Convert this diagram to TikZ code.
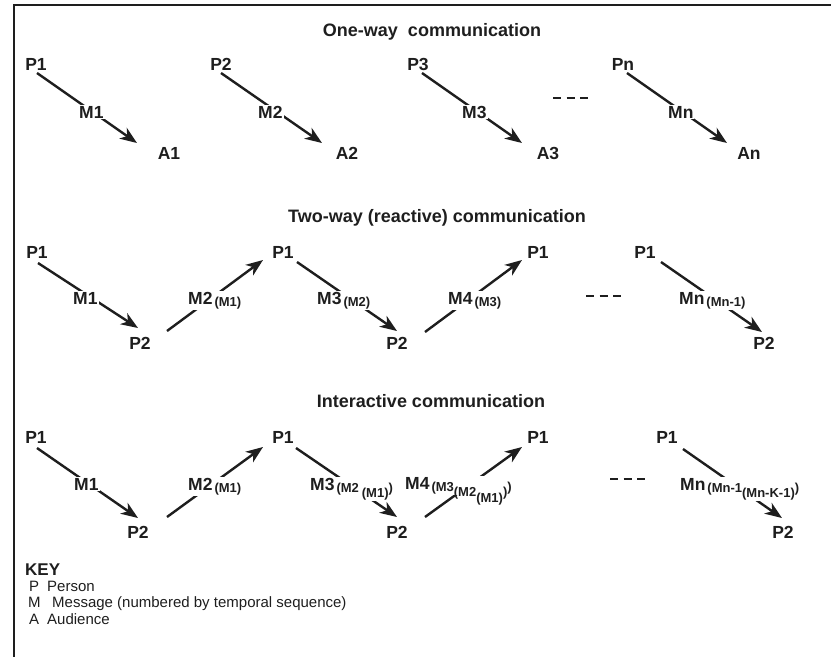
\documentclass[tikz,border=0pt]{standalone}
\usepackage{fontspec}
\setmainfont{Liberation Sans}
\usetikzlibrary{arrows.meta}
\definecolor{ink}{HTML}{1E1E1E}
\newcommand\lblfont{\bfseries\fontsize{17.5}{20}\selectfont}
\newcommand\subfont{\bfseries\fontsize{13}{15}\selectfont}
\newcommand\ttlfont{\bfseries\fontsize{18}{21}\selectfont}
\newcommand\keyfont{\fontsize{15}{18}\selectfont}
\newcommand\keybold{\bfseries\fontsize{17}{20}\selectfont}
% first-level and nested subscripts of a message label
\newcommand\subA[1]{\raisebox{-2pt}{\subfont #1}}
\newcommand\subB[1]{\raisebox{-5.5pt}{#1}}
\begin{document}
\begin{tikzpicture}[x=1pt,y=-1pt,
  party/.style={inner sep=0pt,font=\lblfont,text=ink},
  msg/.style={inner sep=1pt,fill=white,font=\lblfont,text=ink,anchor=base west},
  ttl/.style={inner sep=0pt,font=\ttlfont,text=ink,anchor=base},
  keyhead/.style={inner sep=0pt,font=\keybold,text=ink,anchor=base west},
  keytxt/.style={inner sep=0pt,font=\keyfont,text=ink,anchor=base west},
  arr/.style={draw=ink,line width=2.4pt,-{Stealth[length=17pt,width=13pt,inset=5pt]}},
  ellip/.style={draw=ink,line width=2.8pt,dash pattern=on 8pt off 5.5pt},
  frame/.style={draw=ink,line width=2pt}]
\useasboundingbox (0,0) rectangle (831,657);
\draw[frame] (831,4.5) -- (13.5,4.5) -- (13.5,657);

% ---------- one-way ----------
\node[ttl] (t1) at (432,36.5) {One-way~~communication};
\node[party] (a-p1) at (36,64) {P1};
\node[party] (a-p2) at (221,64) {P2};
\node[party] (a-p3) at (418,64) {P3};
\node[party] (a-pn) at (623,64) {Pn};
\node[party] (a-a1) at (169,153) {A1};
\node[party] (a-a2) at (347,153) {A2};
\node[party] (a-a3) at (548,153) {A3};
\node[party] (a-an) at (749,153) {An};
\draw[arr] ([shift={(1,9)}]a-p1.center) -- ([shift={(-32,-10)}]a-a1.center);
\draw[arr] ([shift={(0,9)}]a-p2.center) -- ([shift={(-25,-10)}]a-a2.center);
\draw[arr] ([shift={(4,9)}]a-p3.center) -- ([shift={(-26,-10)}]a-a3.center);
\draw[arr] ([shift={(4,9)}]a-pn.center) -- ([shift={(-22,-10)}]a-an.center);
\node[msg] (a-m1) at (78,118) {M1};
\node[msg] (a-m2) at (257,118) {M2};
\node[msg] (a-m3) at (461,118) {M3};
\node[msg] (a-mn) at (667,118) {Mn};
\draw[ellip] (553,98) -- (588,98);

% ---------- two-way (reactive) ----------
\node[ttl] (t2) at (437,222) {Two-way (reactive) communication};
\node[party] (b-p1a) at (37,252) {P1};
\node[party] (b-p2a) at (140,343) {P2};
\node[party] (b-p1b) at (283,252) {P1};
\node[party] (b-p2b) at (397,343) {P2};
\node[party] (b-p1c) at (538,252) {P1};
\node[party] (b-p1d) at (645,252) {P1};
\node[party] (b-p2d) at (764,343) {P2};
\draw[arr] ([shift={(1,11)}]b-p1a.center) -- ([shift={(-2,-15)}]b-p2a.center);
\draw[arr] ([shift={(27,-12)}]b-p2a.center) -- ([shift={(-20,8)}]b-p1b.center);
\draw[arr] ([shift={(14,10)}]b-p1b.center) -- ([shift={(0,-12)}]b-p2b.center);
\draw[arr] ([shift={(28,-11)}]b-p2b.center) -- ([shift={(-16,8)}]b-p1c.center);
\draw[arr] ([shift={(16,10)}]b-p1d.center) -- ([shift={(-2,-11)}]b-p2d.center);
\node[msg] (b-m1) at (72,304) {M1};
\node[msg] (b-m2) at (187,304) {M2\kern2pt\subA{(M1)}};
\node[msg] (b-m3) at (316,304) {M3\kern2pt\subA{(M2)}};
\node[msg] (b-m4) at (447,304) {M4\kern2pt\subA{(M3)}};
\node[msg] (b-mn) at (678,304) {Mn\kern2pt\subA{(Mn-1)}};
\draw[ellip] (586,296) -- (621,296);

% ---------- interactive ----------
\node[ttl] (t3) at (431,407) {Interactive communication};
\node[party] (c-p1a) at (36,437) {P1};
\node[party] (c-p2a) at (138,532) {P2};
\node[party] (c-p1b) at (283,437) {P1};
\node[party] (c-p2b) at (397,532) {P2};
\node[party] (c-p1c) at (538,437) {P1};
\node[party] (c-p1d) at (667,437) {P1};
\node[party] (c-p2d) at (783,532) {P2};
\draw[arr] ([shift={(1,11)}]c-p1a.center) -- ([shift={(0,-14)}]c-p2a.center);
\draw[arr] ([shift={(29,-15)}]c-p2a.center) -- ([shift={(-20,10)}]c-p1b.center);
\draw[arr] ([shift={(13,11)}]c-p1b.center) -- ([shift={(0,-15)}]c-p2b.center);
\draw[arr] ([shift={(28,-15)}]c-p2b.center) -- ([shift={(-16,10)}]c-p1c.center);
\draw[arr] ([shift={(16,12)}]c-p1d.center) -- ([shift={(-1,-14)}]c-p2d.center);
\node[msg] (c-m1) at (73,490) {M1};
\node[msg] (c-m2) at (187,490) {M2\kern2pt\subA{(M1)}};
\node[msg] (c-m3) at (309,490) {M3\kern2pt\subA{(M2\kern3pt\subB{(M1)})}};
\node[msg] (c-m4) at (404,489) {M4\kern2pt\subA{(M3\smash{\subB{(M2\subB{(M1)})}})}};
\node[msg] (c-mn) at (679,490) {Mn\kern2pt\subA{(Mn-1\subB{(Mn-K-1)})}};
\draw[ellip] (610,479) -- (645,479);

% ---------- key ----------
\node[keyhead] (k-head) at (25,575) {KEY};
\node[keytxt] (k-p) at (29,591) {P};
\node[keytxt] (k-pt) at (47,591) {Person};
\node[keytxt] (k-m) at (28,607.5) {M};
\node[keytxt] (k-mt) at (52,607.5) {Message (numbered by temporal sequence)};
\node[keytxt] (k-a) at (29,624) {A};
\node[keytxt] (k-at) at (47,624) {Audience};
\end{tikzpicture}
\end{document}
